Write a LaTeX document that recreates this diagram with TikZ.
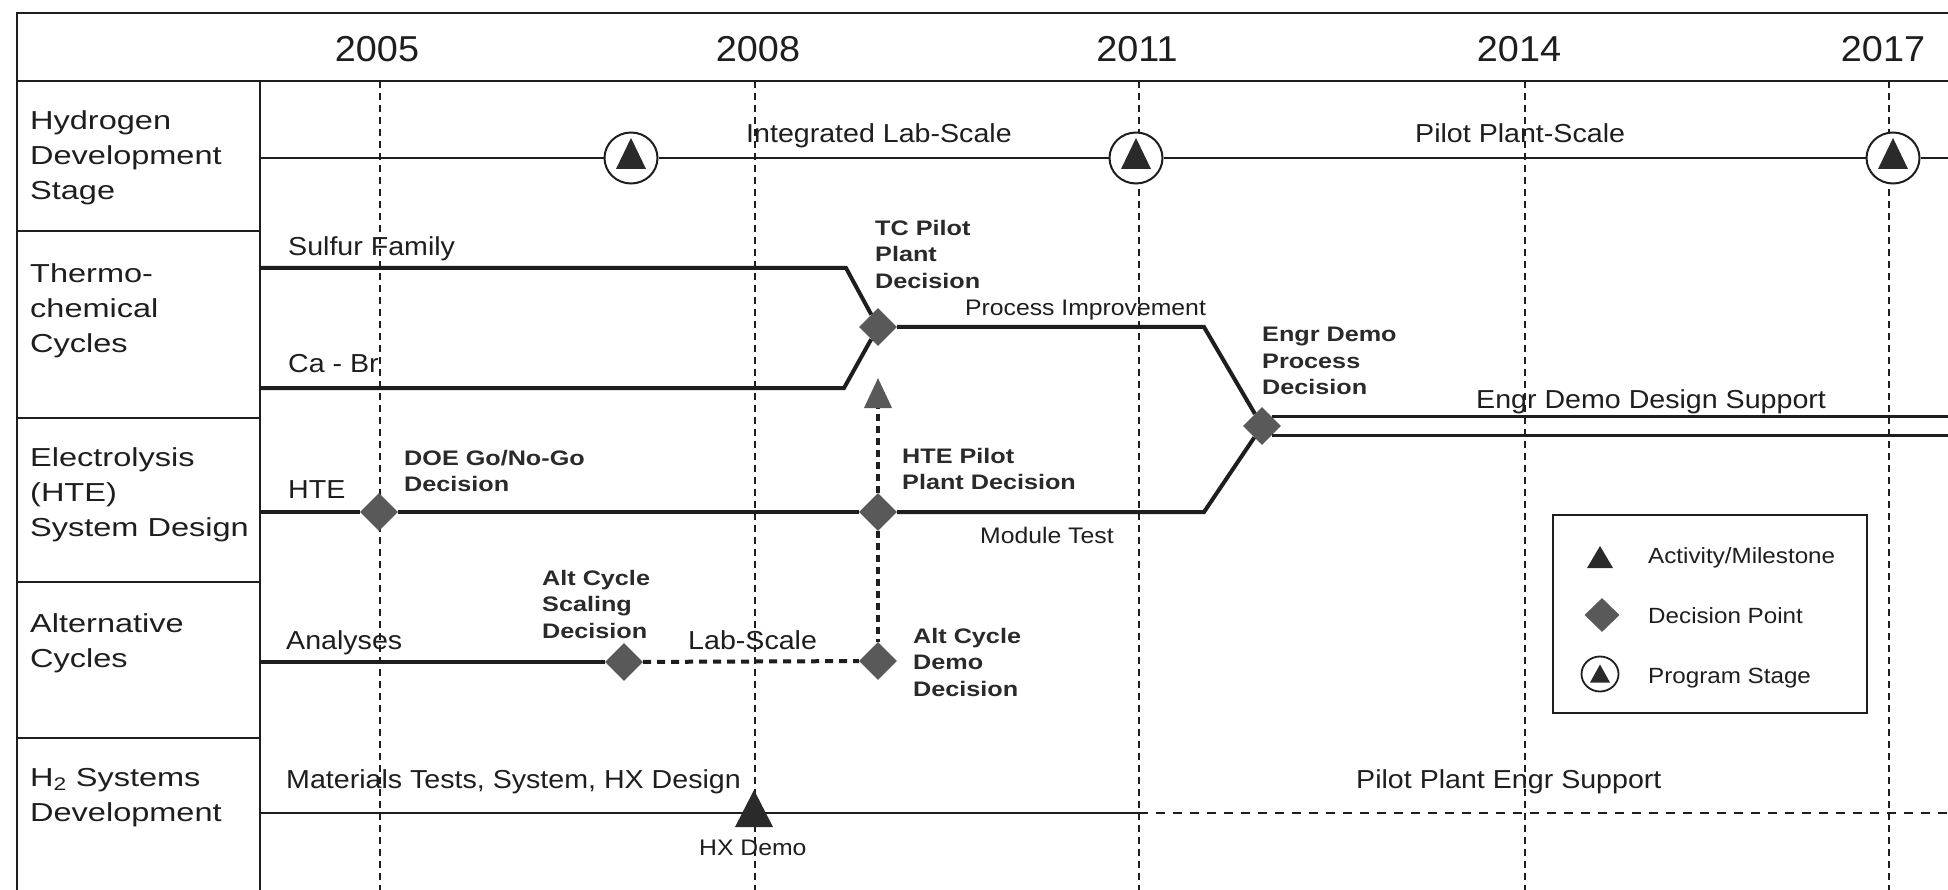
\documentclass[tikz,border=0pt]{standalone}
\usepackage{fontspec}
\setmainfont{Liberation Sans}
\newfontfamily\lblfont{Liberation Sans}[FakeStretch=1.25]
\newfontfamily\txtfont{Liberation Sans}[FakeStretch=1.1]
\newfontfamily\bldfont{Liberation Sans}[FakeStretch=1.2]
\newfontfamily\yrfont{Liberation Sans}[FakeStretch=1.05]
\usetikzlibrary{shapes.geometric,arrows.meta,calc}

\definecolor{ink}{HTML}{1E1E1E}
\definecolor{dgray}{HTML}{595959}
\definecolor{tgray}{HTML}{2A2A2A}

\tikzset{
  x=1pt, y=-1pt,
  grid line/.style={ink, line width=2.5pt},
  year line/.style={ink, line width=2pt, dash pattern=on 7pt off 5pt},
  track/.style={ink, line width=4pt},
  thin track/.style={ink, line width=2.8pt},
  dash track/.style={ink, line width=4pt, dash pattern=on 7pt off 5pt},
  plan track/.style={ink, line width=2.6pt, dash pattern=on 9pt off 8pt},
  decision/.style={diamond, aspect=1, fill=dgray, draw=none, inner sep=0pt,
    minimum width=38pt, minimum height=38pt},
  stage/.style={ellipse, draw=ink, line width=2pt, fill=white, inner sep=0pt,
    minimum width=53pt, minimum height=51pt},
  rowlabel/.style={anchor=north west, inner sep=0pt, align=left, text=ink,
    font=\lblfont\fontsize{26}{35}\selectfont},
  yearlabel/.style={anchor=base, inner sep=0pt, text=ink,
    font=\yrfont\fontsize{36}{40}\selectfont},
  note/.style={anchor=base west, inner sep=0pt, text=ink,
    font=\txtfont\fontsize{26}{30}\selectfont},
  smallnote/.style={anchor=base west, inner sep=0pt, text=ink,
    font=\txtfont\fontsize{22.5}{26}\selectfont},
  decnote/.style={anchor=north west, inner sep=0pt, align=left, text=tgray,
    font=\bldfont\bfseries\fontsize{21}{26.5}\selectfont},
  keynote/.style={anchor=base west, inner sep=0pt, text=ink,
    font=\txtfont\fontsize{22}{26}\selectfont},
  % filled triangle: half base, apex height above, base depth below
  pics/tri/.style n args={3}{code={
    \fill[tgray] (-#1,#3) -- (0,-#2) -- (#1,#3) -- cycle;}},
}

\begin{document}
\begin{tikzpicture}
\useasboundingbox (0,0) rectangle (1948,890);
\fill[white] (0,0) rectangle (1948,890);

% table frame
\draw[grid line] (17,890) -- (17,13) -- (1948,13);
\draw[grid line] (17,81) -- (1948,81);
\draw[grid line] (260,81) -- (260,890);
\foreach \yy in {231,418,582,738}
  \draw[grid line] (17,\yy) -- (260,\yy);

% year columns
\node[yearlabel] (y2005) at (377,62) {2005};
\node[yearlabel] (y2008) at (758,62) {2008};
\node[yearlabel] (y2011) at (1137,62) {2011};
\node[yearlabel] (y2014) at (1519,62) {2014};
\node[yearlabel] (y2017) at (1883,62) {2017};
\foreach \xx in {380,755,1139,1525,1889}
  \draw[year line] (\xx,81) -- (\xx,890);

% row labels
\node[rowlabel] (lbH) at (30,110) {Hydrogen\\Development\\Stage};
\node[rowlabel] (lbT) at (30,263) {Thermo-\\chemical\\Cycles};
\node[rowlabel] (lbE) at (30,447) {Electrolysis\\(HTE)\\System Design};
\node[rowlabel] (lbA) at (30,613) {Alternative\\Cycles};
\node[rowlabel] (lbS) at (30,768) {H\textsubscript{2} Systems\\Development};

% program stages
\node[stage] (st1) at (631,158) {};
\node[stage] (st2) at (1136,158) {};
\node[stage] (st3) at (1893,158) {};
\pic at (631,158) {tri={15}{20}{11}};
\pic at (1136,158) {tri={15}{20}{11}};
\pic at (1893,158) {tri={15}{20}{11}};

% decision points
\node[decision] (tc) at (878,327) {};
\node[decision] (engr) at (1262,426) {};
\node[decision] (doe) at (379,512) {};
\node[decision] (htep) at (878,512) {};
\node[decision] (altsc) at (624,662) {};
\node[decision] (altdm) at (878,661) {};

% track end and bend points
\coordinate (hL) at (260,158);
\coordinate (hR) at (1948,158);
\coordinate (sulL) at (260,268);
\coordinate (sulB) at (846,268);
\coordinate (cabL) at (260,388);
\coordinate (cabB) at (844,388);
\coordinate (procB) at (1204,327);
\coordinate (hteL) at (260,512);
\coordinate (hteB) at (1204,512);
\coordinate (tcArrow) at (878,378);
\coordinate (anaL) at (260,662);
\coordinate (h2L) at (260,813);
\coordinate (h2M) at (1139,813);
\coordinate (h2R) at (1948,813);
\coordinate (edgeR) at (1948,0);

% hydrogen development stage
\draw[thin track] (hL) -- (st1);
\draw[thin track] (st1) -- (st2);
\draw[thin track] (st2) -- (st3);
\draw[thin track] (st3) -- (hR);

% thermochemical cycles
\draw[track] (sulL) -- (sulB) -- (tc);
\draw[track] (cabL) -- (cabB) -- (tc);
\draw[track] (tc) -- (procB) -- (engr);
\draw[ink, line width=3.5pt] (engr.north east) -- (engr.north east -| edgeR);
\draw[ink, line width=3.5pt] (engr.south east) -- (engr.south east -| edgeR);

% electrolysis
\draw[track] (hteL) -- (doe);
\draw[track] (doe) -- (htep);
\draw[track] (htep) -- (hteB) -- (engr);
\draw[dash track, -{Triangle[length=30pt,width=27pt,color=dgray]}] (htep) -- (tcArrow);
\draw[dash track] (htep) -- (altdm);

% alternative cycles
\draw[track] (anaL) -- (altsc);
\draw[dash track, dash pattern=on 8pt off 6pt] (altsc) -- (altdm);

% H2 systems
\draw[thin track] (h2L) -- (h2M);
\draw[plan track] (h2M) -- (h2R);
\pic (hxdemo) at (754,813) {tri={19}{23}{14}};

% track notes
\node[note] (nIls) at (746,143) {Integrated Lab-Scale};
\node[note] (nPps) at (1415,143) {Pilot Plant-Scale};
\node[note] (nSul) at (288,256) {Sulfur Family};
\node[smallnote] (nPro) at (965,316) {Process Improvement};
\node[note] (nCab) at (288,373) {Ca - Br};
\node[note] (nEds) at (1476,408) {Engr Demo Design Support};
\node[note] (nHte) at (288,498) {HTE};
\node[smallnote] (nMod) at (980,543) {Module Test};
\node[note] (nAna) at (286,649) {Analyses};
\node[note] (nLab) at (688,649) {Lab-Scale};
\node[note] (nMat) at (286,788) {Materials Tests, System, HX Design};
\node[smallnote] (nHx) at (699,855) {HX Demo};
\node[note] (nPpe) at (1356,788) {Pilot Plant Engr Support};

% decision notes
\node[decnote] (tcN) at (875,220) {TC Pilot\\Plant\\Decision};
\node[decnote] (engrN) at (1262,327) {Engr Demo\\Process\\Decision};
\node[decnote] (doeN) at (404,450) {DOE Go/No-Go\\Decision};
\node[decnote] (htepN) at (902,448) {HTE Pilot\\Plant Decision};
\node[decnote] (altscN) at (542,570) {Alt Cycle\\Scaling\\Decision};
\node[decnote] (altdmN) at (913,628) {Alt Cycle\\Demo\\Decision};

% legend
\node[draw=ink, line width=2pt, fill=white, minimum width=314pt, minimum height=198pt,
  inner sep=0pt] (legend) at (1710,614) {};
\pic at (1600,557) {tri={13}{11}{11}};
\node[decision, minimum width=35pt, minimum height=34pt] (keydec) at (1602,615) {};
\node[stage, minimum width=37pt, minimum height=35pt, line width=1.8pt] (keystage) at (1600,674) {};
\pic at (1600,674) {tri={10}{9.5}{8.5}};
\node[keynote] (kAct) at (1648,563) {Activity/Milestone};
\node[keynote] (kDec) at (1648,623) {Decision Point};
\node[keynote] (kSta) at (1648,683) {Program Stage};
\end{tikzpicture}
\end{document}
